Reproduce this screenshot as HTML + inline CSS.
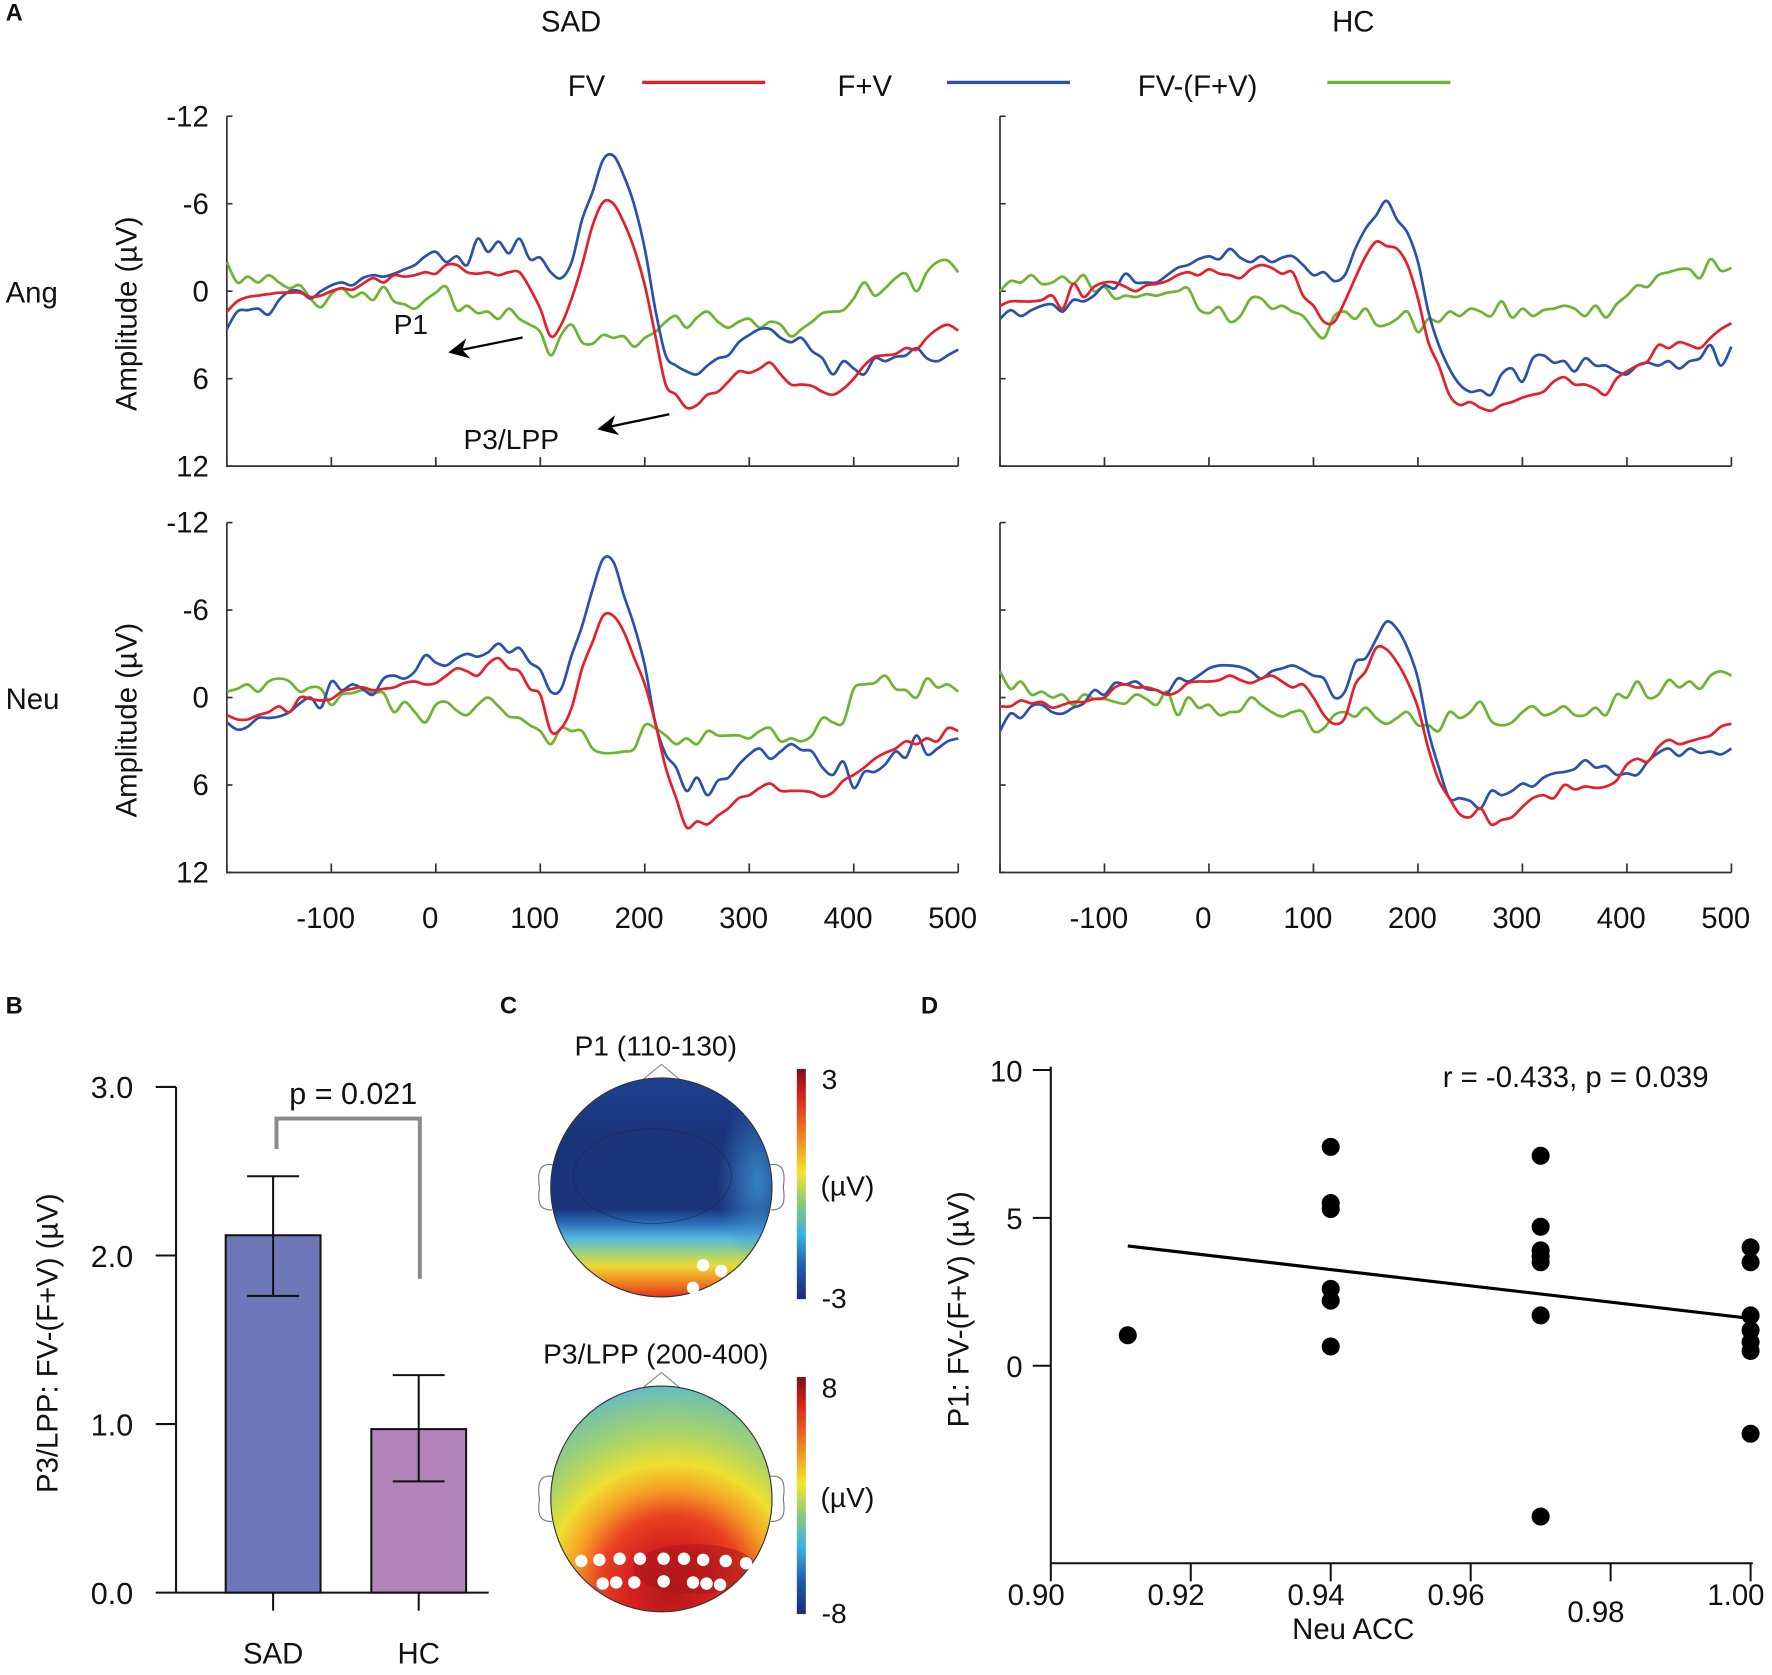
<!DOCTYPE html>
<html><head><meta charset="utf-8"><title>ERP figure</title>
<style>
html,body{margin:0;padding:0;background:#fff;}
svg{display:block;font-family:"Liberation Sans",Arial,sans-serif;}
</style></head>
<body>
<svg id="fig" width="1772" height="1675" viewBox="0 0 1568 1484" xmlns="http://www.w3.org/2000/svg">
<defs>
<linearGradient id="jet" x1="0" y1="0" x2="0" y2="1">
<stop offset="0" stop-color="#7f0f14"/><stop offset="0.12" stop-color="#d8251f"/><stop offset="0.3" stop-color="#f08a22"/><stop offset="0.45" stop-color="#f2e52e"/><stop offset="0.58" stop-color="#8cc97a"/><stop offset="0.72" stop-color="#3cb0e0"/><stop offset="0.86" stop-color="#1f5cae"/><stop offset="1" stop-color="#1a2c78"/>
</linearGradient>
<linearGradient id="topoP1" x1="0" y1="0" x2="0" y2="1">
<stop offset="0" stop-color="#1e4290"/><stop offset="0.25" stop-color="#1a347c"/><stop offset="0.6" stop-color="#1a347c"/><stop offset="0.66" stop-color="#2a6ab4"/><stop offset="0.73" stop-color="#52b4e0"/><stop offset="0.8" stop-color="#9fd27a"/><stop offset="0.86" stop-color="#ecd934"/><stop offset="0.92" stop-color="#f39224"/><stop offset="1" stop-color="#e2361f"/>
</linearGradient>
<radialGradient id="topoP1side" cx="0.5" cy="0.5" r="0.5">
<stop offset="0" stop-color="#3c96d2" stop-opacity="0.8"/><stop offset="1" stop-color="#3c96d2" stop-opacity="0"/>
</radialGradient>
<radialGradient id="topoP3" cx="0.55" cy="0.92" r="0.95" fx="0.55" fy="0.9">
<stop offset="0" stop-color="#b51818"/><stop offset="0.2" stop-color="#d42020"/><stop offset="0.35" stop-color="#e84020"/><stop offset="0.48" stop-color="#f5a025"/><stop offset="0.6" stop-color="#eee030"/><stop offset="0.75" stop-color="#a8d468"/><stop offset="0.9" stop-color="#7cc4a0"/><stop offset="1" stop-color="#5ab7de"/>
</radialGradient>
<marker id="arr" viewBox="0 0 10 10" refX="9" refY="5" markerWidth="9" markerHeight="9" orient="auto"><path d="M0,0 L10,5 L0,10 L3,5 Z" fill="#000"/></marker>
</defs>
</svg>
<script>
// ===== ERP data (µV, negative up), times -200..500 step 10 =====
const erpTimes = Array.from({length:71},(_,i)=>-200+i*10);
const sadAngFV = [1.4,0.7,0.4,0.3,0.2,0.1,0.1,0.1,0.4,0.3,0,-0.2,-0.1,-0.5,-0.9,-0.6,-1.1,-1.0,-1.1,-1.3,-1.2,-1.8,-1.8,-1.3,-1.2,-1.3,-1.1,-1.3,-1.3,-0.2,1.2,3.1,2.3,0.5,-1.8,-4.5,-6.1,-6.0,-4.7,-2.9,-0.4,3.0,6.4,7.1,8.0,7.8,7.1,6.9,6.2,5.5,5.6,5.3,4.9,5.7,6.4,6.4,6.5,6.9,7.1,6.7,6.0,5.1,4.5,4.4,4.3,3.9,4.0,3.2,2.6,2.3,2.7];
const sadAngFpV = [2.6,1.4,1.3,1.2,1.6,0.6,0,0,0.5,0,-0.4,-0.6,-0.4,-0.9,-1.1,-1.0,-1.2,-1.5,-1.8,-2.4,-2.7,-2.0,-2.4,-1.8,-3.6,-2.7,-3.4,-2.6,-3.6,-2.2,-2.3,-1.3,-0.9,-2.0,-4.9,-6.8,-9.0,-9.3,-7.9,-5.9,-2.9,1.2,4.4,5.1,5.5,5.7,5.1,4.6,4.4,3.5,3.0,2.6,2.6,3.2,3.5,3.2,4.1,4.6,5.7,4.8,5.3,5.7,4.6,4.8,4.5,4.4,3.9,4.6,4.8,4.4,4.0];
const sadAngDiff = [-2.0,-0.6,-1.0,-0.6,-1.1,-0.6,-0.2,-0.4,0.5,1.1,0.2,-0.2,0.4,0.1,0.6,-0.3,0.7,0.9,1.2,0.6,0.1,-0.3,1.3,1.0,1.5,1.4,1.9,1.2,1.9,2.3,2.8,4.4,3.0,2.3,3.5,3.6,3.0,3.2,3.1,3.8,3.2,2.8,2.1,1.7,2.5,1.8,1.4,2.1,2.5,2.1,1.9,2.5,2.1,2.3,3.1,2.6,2.1,1.5,1.4,1.3,0.5,-0.6,0.3,-0.2,-0.9,-1.2,0,-1.3,-2.0,-2.1,-1.3];
const hcAngFV = [1.0,0.7,0.7,0.7,0.6,0.3,1.2,-0.5,0.4,-0.3,-0.6,-0.6,-0.3,0,-0.4,-0.5,-0.7,-1.1,-1.3,-1.1,-1.5,-1.2,-1.1,-0.9,-1.5,-1.8,-1.6,-1.2,-1.3,0.3,1.0,2.1,2.1,0.7,-0.9,-2.4,-3.4,-3.1,-2.9,-1.8,0.5,3.5,5.1,7.1,7.8,7.6,8.0,8.2,7.8,7.6,7.3,7.1,6.9,6.2,5.9,6.4,6.4,6.7,7.1,6.0,5.5,5.1,4.8,3.7,3.9,3.5,3.7,3.9,3.2,2.6,2.2];
const hcAngFpV = [1.9,1.3,1.7,1.3,1.0,0.9,1.4,0.6,0.7,0.3,-0.4,-0.2,-1.2,-0.6,-0.6,-0.6,-1.1,-1.6,-1.8,-2.2,-2.4,-2.2,-2.9,-2.3,-2.0,-2.4,-2.0,-2.3,-2.4,-1.8,-1.1,-1.3,-0.7,-1.1,-2.9,-4.3,-5.2,-6.2,-4.9,-4.0,-2.0,1.4,3.7,5.3,6.4,6.9,6.8,7.1,5.7,5.3,6.2,4.6,4.4,4.9,4.8,5.5,4.6,5.1,5.1,5.5,5.7,5.1,4.9,5.1,4.8,5.3,4.8,4.6,3.7,5.1,3.8];
const hcAngDiff = [0,-0.7,-0.6,-1.1,-0.5,-0.6,-1.0,-0.5,-1.1,0,-0.3,0.5,0.3,0.4,0.2,0.3,0.1,0,-0.2,1.2,1.5,1.1,2.1,1.7,0.5,0.5,1.2,1.0,1.4,1.7,2.6,3.2,1.7,1.4,1.9,1.2,2.3,2.3,1.9,1.4,2.8,1.9,2.1,1.4,1.7,1.2,1.4,1.7,0.7,1.8,1.2,1.7,1.3,1.2,1.0,1.2,1.7,1.0,1.8,0.9,0.3,-0.4,-0.3,-1.1,-1.3,-1.5,-1.5,-0.9,-2.2,-1.4,-1.6];
const sadNeuFV = [1.2,1.5,1.5,1.2,1.0,0.6,1.0,0,0.1,0.2,0.1,-0.4,-0.6,-0.7,-0.5,-0.6,-0.7,-1.0,-1.1,-0.9,-1.0,-1.5,-2.0,-1.8,-1.5,-2.3,-2.7,-2.0,-1.8,-0.6,-0.2,2.3,2.1,0.7,-2.0,-3.8,-5.6,-5.6,-4.5,-2.7,-0.9,1.7,4.8,6.9,8.9,8.5,8.7,8.1,7.6,6.9,6.7,6.2,5.9,6.4,6.4,6.4,6.5,6.8,6.5,5.7,5.3,4.8,4.2,3.8,3.5,3.0,3.2,2.8,3.0,2.1,2.3];
const sadNeuFpV = [1.7,2.2,2.0,1.4,1.4,1.3,1.0,0.4,0,0.7,-1.1,-0.5,-0.9,-0.6,-0.2,-1.3,-1.5,-1.3,-1.8,-2.9,-2.4,-2.2,-2.7,-3.0,-2.8,-3.1,-3.7,-3.1,-3.4,-2.4,-1.9,-0.4,-0.6,-2.9,-4.9,-7.4,-9.5,-9.3,-7.0,-4.9,-2.2,1.7,3.9,4.8,6.4,5.5,6.7,5.7,5.5,4.6,3.9,3.5,4.2,3.7,3.2,3.6,3.7,4.8,5.3,4.4,6.2,5.1,5.1,4.6,3.7,4.1,2.6,3.9,3.5,3.0,2.8];
const sadNeuDiff = [-0.4,-0.6,-0.9,-0.4,-1.1,-1.3,-1.1,-0.4,-0.7,-0.6,0.5,-0.2,-0.3,-0.5,-0.3,-0.3,1.0,0.3,1.0,1.7,0.5,0.3,0.9,1.2,0.5,0,0.6,1.3,1.4,1.9,2.3,3.2,2.1,2.3,2.3,3.5,3.8,3.8,3.7,3.5,1.9,2.1,2.6,3.2,2.8,3.2,2.3,2.6,2.6,2.6,2.8,2.3,2.1,3.0,2.8,3.0,2.6,1.4,1.7,1.7,-0.6,-0.9,-1.0,-1.5,-0.6,-0.5,0,-1.3,-0.7,-0.9,-0.4];
const hcNeuFV = [0.6,0.6,0.2,0.4,0.3,0.7,0.5,0.3,0.3,0.1,0,-0.7,-0.9,-0.7,-0.7,-0.5,-0.2,-0.4,-1.0,-1.1,-1.1,-1.2,-1.5,-1.2,-1.0,-1.3,-1.5,-1.1,-0.7,-0.9,0,1.2,1.8,1.4,-0.9,-1.8,-3.4,-3.3,-2.4,-1.1,0.7,3.5,5.7,6.9,8.0,8.2,7.6,8.7,8.4,8.2,7.5,6.9,6.7,6.9,6.0,6.3,6.1,6.2,6.1,5.7,4.6,4.2,4.4,3.4,2.9,3.2,3.0,2.8,2.6,2.0,1.8];
const hcNeuFpV = [2.3,1.1,1.4,0.6,0.5,1.0,1.1,0.7,0.4,-0.5,-0.2,-1.0,-0.9,-1.1,-0.6,-0.5,-0.3,-1.3,-1.1,-1.5,-2.0,-2.2,-2.2,-2.1,-1.8,-1.3,-1.8,-2.0,-2.2,-1.9,-1.5,-1.3,0,-0.4,-2.4,-2.7,-4.0,-5.2,-4.7,-3.4,-1.3,2.3,4.8,6.9,6.9,7.1,7.6,6.4,6.7,6.4,5.9,6.1,5.5,5.2,5.1,4.9,4.3,4.8,4.7,5.3,5.2,5.3,4.4,3.8,3.5,4.0,3.5,3.8,3.7,3.9,3.5];
const hcNeuDiff = [-1.8,-0.6,-1.1,-0.2,-0.4,0,-0.2,0.5,-0.2,0.1,0.1,0.3,0.4,-0.2,0.1,0.5,-0.4,1.2,0,0.7,0.5,1.2,1.0,0.9,0,0.5,1.0,1.3,1.0,1.0,2.3,2.1,1.2,1.0,1.3,0.7,1.4,1.8,1.4,1.0,1.9,1.9,2.3,1.0,1.4,1.0,0.3,1.6,1.9,1.7,1.0,0.6,1.2,1.0,0.6,1.2,1.2,0.7,1.2,-0.2,0,-1.1,0,-0.2,-1.2,-0.7,-1.1,-0.6,-1.5,-1.8,-1.5];
const erpXTicks = [-200,-100,0,100,200,300,400,500];
const erpXLabels = [-100,0,100,200,300,400,500];
const erpYTicks = [-12,-6,0,6,12];

// ===== Bar chart data =====
const barGroups = ["SAD","HC"];
const barMeans = [2.12,0.97];
const barErrLow = [1.76,0.66];
const barErrHigh = [2.47,1.29];
const barYTicks = [0,1,2,3];

// ===== Scatter data =====
const scatterAcc = [0.911,0.94,0.94,0.94,0.94,0.94,0.94,0.97,0.97,0.97,0.97,0.97,0.97,0.97,1.0,1.0,1.0,1.0,1.0,1.0,1.0];
const scatterP1 = [1.03,7.4,5.5,5.3,2.6,2.2,0.65,7.1,4.7,3.9,3.7,3.5,1.7,-5.1,4.0,3.5,1.7,1.2,0.8,0.5,-2.3];
const fitX = [0.911,1.0];
const fitY = [4.05,1.6];
const scatterXTicks = [0.90,0.92,0.94,0.96,0.98,1.00];
const scatterYTicks = [0,5,10];

const NS="http://www.w3.org/2000/svg";
const svg=document.getElementById('fig');
function mk(tag,attrs,parent){const e=document.createElementNS(NS,tag);for(const k in attrs)e.setAttribute(k,attrs[k]);(parent||svg).appendChild(e);return e;}
function txt(s,x,y,size,anchor,parent,extra){const e=mk('text',Object.assign({x:x,y:y,'font-size':size,'text-anchor':anchor||'start',fill:'#111'},extra||{}),parent);e.textContent=s;return e;}
function smooth(pts){let d='M'+pts[0][0].toFixed(1)+','+pts[0][1].toFixed(1);for(let i=0;i<pts.length-1;i++){const p0=pts[i-1]||pts[i],p1=pts[i],p2=pts[i+1],p3=pts[i+2]||p2;const c1x=p1[0]+(p2[0]-p0[0])/6,c1y=p1[1]+(p2[1]-p0[1])/6,c2x=p2[0]-(p3[0]-p1[0])/6,c2y=p2[1]-(p3[1]-p1[1])/6;d+=' C'+c1x.toFixed(1)+','+c1y.toFixed(1)+' '+c2x.toFixed(1)+','+c2y.toFixed(1)+' '+p2[0].toFixed(1)+','+p2[1].toFixed(1);}return d;}

// ---- Titles / legend ----
let e;
e=txt('A',4,18,21,'start',svg,{'font-weight':'bold'});


e=txt('SAD',505,28,26,'middle');


e=txt('HC',1198,28,26,'middle');


const legendNames=['FV','F+V','FV-(F+V)'];
const legendColors=['#e5202b','#2b52aa','#6db432'];
const legendTextX=[502,741,1007];
const legendLineX=[568,838,1175];
for(let i=0;i<3;i++){
  const g=mk('g',{});
  
  
  txt(legendNames[i],legendTextX[i],85,26,'start',g);
  mk('line',{x1:legendLineX[i],y1:73,x2:legendLineX[i]+109,y2:73,stroke:legendColors[i],'stroke-width':3},g);
}
e=txt('Ang',4,268,26,'start');


e=txt('Neu',4,628,26,'start');



// ---- ERP panels ----
const panels=[
 {name:'sad-ang',x0:200,x1:848,y0:103,y1:413,series:[sadAngDiff,sadAngFpV,sadAngFV],labels:true,xlab:false},
 {name:'hc-ang',x0:885,x1:1533,y0:103,y1:413,series:[hcAngDiff,hcAngFpV,hcAngFV],labels:false,xlab:false},
 {name:'sad-neu',x0:200,x1:848,y0:463,y1:773,series:[sadNeuDiff,sadNeuFpV,sadNeuFV],labels:true,xlab:true},
 {name:'hc-neu',x0:885,x1:1533,y0:463,y1:773,series:[hcNeuDiff,hcNeuFpV,hcNeuFV],labels:false,xlab:true}];
const serColors=['#6db432','#2b52aa','#e5202b'];
const serNames=['diff-line','fpv-line','fv-line'];
panels.forEach(p=>{
  const g=mk('g',{});
  
  
  const X=t=>p.x0+(t+200)/700*(p.x1-p.x0);
  const Y=v=>p.y0+(v+12)/24*(p.y1-p.y0);
  const ax=mk('path',{d:`M${p.x0},${p.y0} L${p.x0},${p.y1} L${p.x1},${p.y1}`,fill:'none',stroke:'#333','stroke-width':1.5},g);
  
  
  erpYTicks.forEach(v=>{mk('line',{x1:p.x0,y1:Y(v),x2:p.x0+5,y2:Y(v),stroke:'#333','stroke-width':1.5},g);
    if(p.labels){const t=txt(String(v),184,Y(v)+9,26,'end',g);}});
  erpXTicks.forEach(t=>mk('line',{x1:X(t),y1:p.y1,x2:X(t),y2:p.y1-8,stroke:'#333','stroke-width':1.5},g));
  if(p.xlab){erpXLabels.forEach(t=>{const l=txt(String(t),X(t)-5,p.y1+49,26,'middle',g);});}
  if(p.labels){const yl=txt('Amplitude (µV)',0,0,26,'middle',g,{transform:`translate(120,${(p.y0+p.y1)/2+20}) rotate(-90)`});}
  p.series.forEach((s,si)=>{
    const pts=s.map((v,i)=>[X(erpTimes[i]),Y(v)]);
    const path=mk('path',{d:smooth(pts),fill:'none',stroke:serColors[si],'stroke-width':2.4,'stroke-linejoin':'round'},g);
    
    
  });
});
// annotations
e=txt('P1',363,296,25,'middle');


e=mk('line',{x1:462,y1:299,x2:398,y2:312,stroke:'#000','stroke-width':2,'marker-end':'url(#arr)'});


e=txt('P3/LPP',452,398,25,'middle');


e=mk('line',{x1:592,y1:367,x2:530,y2:380,stroke:'#000','stroke-width':2,'marker-end':'url(#arr)'});



// ---- Panel B bar chart ----
e=txt('B',4,898,21,'start',svg,{'font-weight':'bold'});


const bg=mk('g',{});


const bY=v=>1411-v*(1411-963)/3;
const barCx=[241,370], barW=84, barCols=['#6e78b8','#b284bb'];
mk('line',{x1:155,y1:963,x2:155,y2:1411,stroke:'#111','stroke-width':1.8},bg);
mk('line',{x1:155,y1:1411,x2:432,y2:1411,stroke:'#111','stroke-width':1.8},bg);
barYTicks.forEach(v=>{mk('line',{x1:137,y1:bY(v),x2:155,y2:bY(v),stroke:'#111','stroke-width':1.8},bg);
  const t=txt(v.toFixed(1),117,bY(v)+10,27,'end',bg);});
barGroups.forEach((gname,i)=>{
  const r=mk('rect',{x:barCx[i]-barW/2,y:bY(barMeans[i]),width:barW,height:bY(0)-bY(barMeans[i]),fill:barCols[i],stroke:'#111','stroke-width':1.8},bg);
  
  
  const eb=mk('path',{d:`M${barCx[i]},${bY(barErrLow[i])} L${barCx[i]},${bY(barErrHigh[i])} M${barCx[i]-23},${bY(barErrHigh[i])} L${barCx[i]+23},${bY(barErrHigh[i])} M${barCx[i]-23},${bY(barErrLow[i])} L${barCx[i]+23},${bY(barErrLow[i])}`,fill:'none',stroke:'#111','stroke-width':1.8},bg);
  
  
  mk('line',{x1:barCx[i],y1:1411,x2:barCx[i],y2:1427,stroke:'#111','stroke-width':1.8},bg);
  const l=txt(gname,barCx[i],1474,26,'middle',bg);
  
  
});
e=mk('path',{d:`M244,1018 L244,991 L371,991 L371,1133`,fill:'none',stroke:'#8a8a8a','stroke-width':3.5},bg);


e=txt('p = 0.021',312,978,27,'middle',bg);


e=txt('P3/LPP: FV-(F+V) (µV)',0,0,26,'middle',bg,{transform:'translate(50,1190) rotate(-90)'});



// ---- Panel C topomaps ----
e=txt('C',442,898,21,'start',svg,{'font-weight':'bold'});


function topo(name,cy,ry,fillId,title,hi,lo,dots,extra){
  const g=mk('g',{});
  
  
  const cx=585,rx=98;
  txt(title,580,cy-ry-20,25,'middle',g);
  mk('path',{d:`M${cx-17},${cy-ry+2} L${cx},${cy-ry-12} L${cx+17},${cy-ry+2}`,fill:'none',stroke:'#888','stroke-width':1},g);
  mk('path',{d:`M${cx-rx+2},${cy-20} C${cx-rx-10},${cy-22} ${cx-rx-12},${cy-14} ${cx-rx-10},${cy} C${cx-rx-12},${cy+14} ${cx-rx-10},${cy+20} ${cx-rx+1},${cy+20}`,fill:'none',stroke:'#777','stroke-width':1},g);
  mk('path',{d:`M${cx+rx-2},${cy-20} C${cx+rx+10},${cy-22} ${cx+rx+12},${cy-14} ${cx+rx+10},${cy} C${cx+rx+12},${cy+14} ${cx+rx+10},${cy+20} ${cx+rx-1},${cy+20}`,fill:'none',stroke:'#777','stroke-width':1},g);
  const clipId='clip-'+name;
  const cp=mk('clipPath',{id:clipId},g);
  mk('ellipse',{cx:cx,cy:cy,rx:rx,ry:ry},cp);
  mk('ellipse',{cx:cx,cy:cy,rx:rx,ry:ry,fill:`url(#${fillId})`},g);
  const inner=mk('g',{'clip-path':`url(#${clipId})`},g);
  if(extra)extra(inner,cx,cy,rx,ry);
  mk('ellipse',{cx:cx,cy:cy,rx:rx,ry:ry,fill:'none',stroke:'#333','stroke-width':1},g);
  dots.forEach(d=>{const c=mk('circle',{cx:d[0],cy:d[1],r:5.5,fill:'#fff'},g);});
  const by0=cy-ry-8,by1=cy+ry+2;
  const cb=mk('rect',{x:705,y:by0,width:8,height:by1-by0,fill:'url(#jet)'},g);
  
  
  txt(hi,727,by0+18,25,'start',g);
  txt('(µV)',726,(by0+by1)/2+10,25,'start',g);
  txt(lo,727,by1+8,25,'start',g);
}
topo('topomap-p1',1052,97,'topoP1','P1 (110-130)','3','-3',[[622,1121],[638,1126],[613,1141]],(g,cx,cy,rx,ry)=>{
  mk('ellipse',{cx:cx+85,cy:cy-5,rx:35,ry:75,fill:'url(#topoP1side)'},g);
  mk('ellipse',{cx:cx-8,cy:cy-10,rx:70,ry:42,fill:'none',stroke:'#223','stroke-width':0.8,opacity:0.6},g);
});
topo('topomap-p3',1328,100,'topoP3','P3/LPP (200-400)','8','-8',[[514,1383],[530,1382],[548,1381],[566,1381],[587,1381],[605,1381],[622,1382],[642,1383],[660,1385],[533,1403],[545,1402],[561,1402],[587,1401],[613,1402],[625,1403],[637,1404]],(g,cx,cy,rx,ry)=>{
  mk('ellipse',{cx:cx+30,cy:cy+62,rx:55,ry:22,fill:'#a51515',opacity:0.5},g);
});

// ---- Panel D scatter ----
e=txt('D',815,898,21,'start',svg,{'font-weight':'bold'});


const dg=mk('g',{});


const sX=v=>930+(v-0.9)/0.1*620;
const sY=v=>1210-v*26.2;
mk('line',{x1:930,y1:945,x2:930,y2:1385,stroke:'#111','stroke-width':1.8},dg);
mk('line',{x1:930,y1:1385,x2:1552,y2:1385,stroke:'#111','stroke-width':1.8},dg);
scatterYTicks.forEach(v=>{mk('line',{x1:914,y1:sY(v),x2:930,y2:sY(v),stroke:'#111','stroke-width':1.8},dg);
  const t=txt(String(v),905,sY(v)+10,26,'end',dg);});
scatterXTicks.forEach((v,i)=>{mk('line',{x1:sX(v),y1:1385,x2:sX(v),y2:1401,stroke:'#111','stroke-width':1.8},dg);
  const t=txt(v.toFixed(2),sX(v)-13,i===4?1437:1422,26,'middle',dg);});
e=mk('line',{x1:sX(fitX[0]),y1:sY(fitY[0]),x2:sX(fitX[1]),y2:sY(fitY[1]),stroke:'#000','stroke-width':2.8},dg);


scatterAcc.forEach((a,i)=>{
  const c=mk('circle',{cx:sX(a),cy:sY(scatterP1[i]),r:8,fill:'#000'},dg);
  
  
});
e=txt('r = -0.433, p = 0.039',1395,963,26,'middle',dg);


e=txt('Neu ACC',1198,1452,26,'middle',dg);


e=txt('P1: FV-(F+V) (µV)',0,0,26,'middle',dg,{transform:'translate(857,1160) rotate(-90)'});


</script>
</body></html>
